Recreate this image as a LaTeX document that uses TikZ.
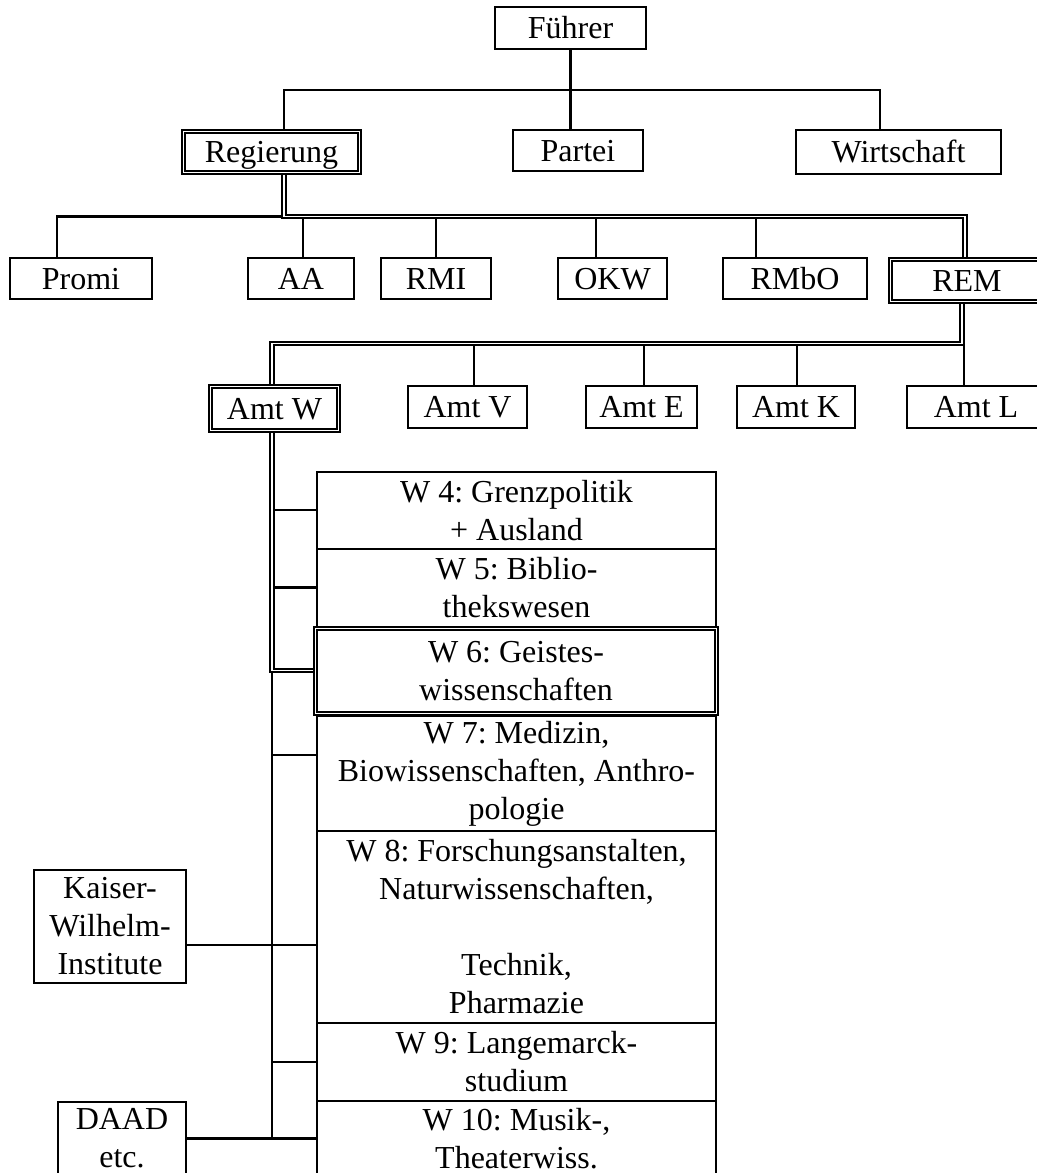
\documentclass[tikz,border=0pt]{standalone}
\usepackage{fontspec}
\setmainfont{Liberation Serif}
\usetikzlibrary{positioning,backgrounds}

\tikzset{
  box/.style={draw, line width=1.8pt, inner sep=0pt, align=center,
    font=\fontsize{24}{28.5}\selectfont\frenchspacing},
  dbox/.style={box, double, line width=1.4pt, double distance=1.4pt},
  one/.style={text height=15.9pt, text depth=0pt},
  sz/.style 2 args={minimum width=#1*0.75pt, minimum height=#2*0.75pt},
  link/.style={line width=1.8pt},
  dlink/.style={double, line width=1.4pt, double distance=1.4pt},
}

\begin{document}
\begin{tikzpicture}[x=0.75pt, y=-0.75pt]
  \useasboundingbox (0,0) rectangle (1037,1173);
  % top
  \node[box, one, sz={151}{42}] (fuehrer) at (570.5,28) {Führer};
  \node[dbox, one, sz={176}{41}] (reg) at (271.5,152) {Regierung};
  \node[box, one, sz={130}{41}] (partei) at (578,150.5) {Partei};
  \node[box, one, sz={205}{44}] (wirt) at (898.5,152) {Wirtschaft};
  % ministries
  \node[box, one, sz={142}{41}] (promi) at (81,278.5) {Promi};
  \node[box, one, sz={106}{41}] (aa) at (301,278.5) {AA};
  \node[box, one, sz={110}{41}] (rmi) at (436,278.5) {RMI};
  \node[box, one, sz={109}{41}] (okw) at (612.5,278.5) {OKW};
  \node[box, one, sz={144}{41}] (rmbo) at (795,278.5) {RMbO};
  \node[dbox, one, sz={153}{42}] (rem) at (967,280.5) {REM};
  % Aemter
  \node[dbox, one, sz={128}{44}] (amtW) at (274.5,408.5) {Amt W};
  \node[box, one, sz={119}{42}] (amtV) at (467.5,407) {Amt V};
  \node[box, one, sz={111}{42}] (amtE) at (641.5,407) {Amt E};
  \node[box, one, sz={118}{42}] (amtK) at (796,407) {Amt K};
  \node[box, one, sz={138}{42}] (amtL) at (976,407) {Amt L};
  % Amt W, Abteilungen
  \node[box, sz={399}{77}] (w4) at (516.5,510.5) {W 4: Grenzpolitik\\+ Ausland};
  \node[box, sz={399}{78}] (w5) at (516.5,588) {W 5: Biblio-\\thekswesen};
  \node[dbox, sz={401}{85}] (w6) at (516,671) {W 6: Geistes-\\wissenschaften};
  \node[box, sz={399}{115}] (w7) at (516.5,773.5) {W 7: Medizin,\\Biowissenschaften, Anthro-\\pologie};
  \node[box, sz={399}{192}] (w8) at (516.5,927) {W 8: Forschungsanstalten,\\Naturwissenschaften,\\ \strut\\Technik,\\Pharmazie};
  \node[box, sz={399}{78}] (w9) at (516.5,1062) {W 9: Langemarck-\\studium};
  \node[box, sz={399}{75}] (w10) at (516.5,1138.5) {W 10: Musik-,\\Theaterwiss.};
  \node[box, sz={152}{113}] (kwi) at (110,926.5) {Kaiser-\\Wilhelm-\\Institute};
  \node[box, sz={128}{73}] (daad) at (122,1138.5) {DAAD\\etc.};

  \begin{scope}[on background layer]
    \fill[white] (0,0) rectangle (1037,1173);
    % Fuehrer
    \coordinate (jReg) at (284,90);
    \coordinate (jWirt) at (880,90);
    \draw[link] (fuehrer.south) -- (fuehrer.south |- partei.north);
    \draw[link] (jReg |- reg.north) -- (jReg) -- (jWirt) -- (jWirt |- wirt.north);
    % Regierung
    \coordinate (jRegB) at (284,216.5);
    \coordinate (jPromi) at (57,216.5);
    \coordinate (jREM) at (965,216.5);
    \draw[link] (jPromi |- promi.north) -- (jPromi) -- (jRegB);
    \foreach \n/\x in {aa/303, rmi/436, okw/596, rmbo/756} {
      \coordinate (j\n) at (\x,216.5);
      \draw[link] (j\n) -- (j\n |- \n.north);
    }
    \draw[dlink] (jRegB |- reg.south) -- (jRegB) -- (jREM) -- (jREM |- rem.north);
    % REM
    \coordinate (jREMb) at (962,343.5);
    \coordinate (jAmtW) at (272,343.5);
    \foreach \n/\x in {amtV/474, amtE/644, amtK/797, amtL/964} {
      \coordinate (j\n) at (\x,343.5);
      \draw[link] (j\n) -- (j\n |- \n.north);
    }
    \draw[dlink] (jREMb |- rem.south) -- (jREMb) -- (jAmtW) -- (jAmtW |- amtW.north);
    % Amt W
    \coordinate (jW6) at (272,670.5);
    \draw[link] (jW6) -- (jW6 |- daad.east);
    \foreach \n/\y in {w4/510, w5/587.5, w7/755, w9/1062} {
      \coordinate (b\n) at (272,\y);
      \draw[link] (b\n) -- (b\n -| \n.west);
    }
    \coordinate (jKWI) at (0,945);
    \draw[link] (kwi.east |- jKWI) -- (w8.west |- jKWI);
    \draw[link] (daad.east) -- (daad.east -| w10.west);
    \draw[dlink] (amtW.south -| jW6) -- (jW6) -- (jW6 -| w6.west);
  \end{scope}
\end{tikzpicture}
\end{document}
